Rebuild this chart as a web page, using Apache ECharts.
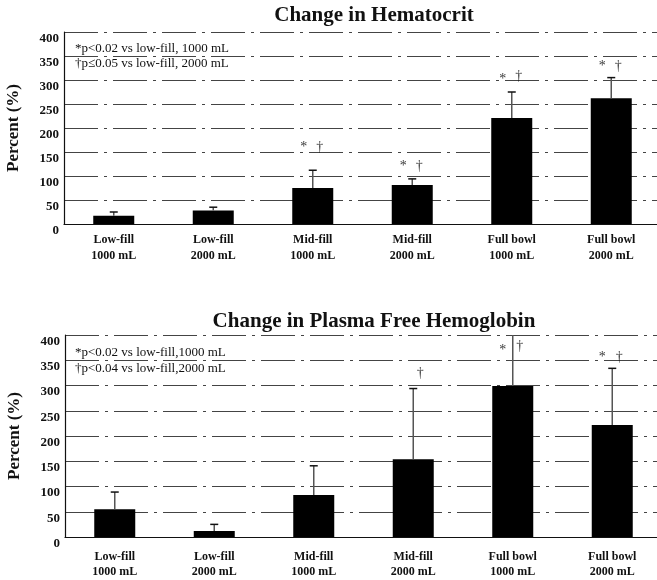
<!DOCTYPE html>
<html>
<head>
<meta charset="utf-8">
<script src="https://cdn.jsdelivr.net/npm/echarts@6/dist/echarts.min.js"></script>
<style>
html,body{margin:0;padding:0;background:#fff;}
#c{width:657px;height:580px;}
</style>
</head>
<body>
<div id="c"></div>
<script>
const categories = ['Low-fill\n1000 mL', 'Low-fill\n2000 mL', 'Mid-fill\n1000 mL', 'Mid-fill\n2000 mL', 'Full bowl\n1000 mL', 'Full bowl\n2000 mL'];
const yTicks = [0, 50, 100, 150, 200, 250, 300, 350, 400];

// Change in Hematocrit
const hctMean = [17, 28, 75, 81, 221, 262];
const hctErrTop = [25, 35, 112, 94, 275, 305];
const hctStar = [null, null, 160, 121, 302, 329];
const hctDagger = [null, null, 160, 121, 308, 329];

// Change in Plasma Free Hemoglobin
const pfhMean = [55, 12, 83, 154, 299, 222];
const pfhErrTop = [89, 25, 141, 294, 410, 334];
const pfhStar = [null, null, null, null, 370, 356];
const pfhDagger = [null, null, null, 325, 378, 356];

const serif = '"Liberation Serif", "Times New Roman", serif';

function yAxis(gi) {
  return {
    type: 'value', gridIndex: gi, min: yTicks[0], max: yTicks[yTicks.length - 1], interval: 50,
    name: 'Percent (%)', nameLocation: 'middle', nameGap: 42, nameRotate: 90,
    nameTextStyle: { fontFamily: serif, fontWeight: 'bold', fontSize: 17, color: '#111' },
    axisLine: { show: true, lineStyle: { color: '#111', width: 1.2 } },
    axisTick: { show: false },
    axisLabel: { fontFamily: serif, fontWeight: 'bold', fontSize: 13, color: '#111', margin: 5, verticalAlign: 'top' },
    splitLine: { show: true, lineStyle: { color: '#444', width: 1, type: [34, 6, 3, 6] } }
  };
}
function xAxis(gi, margin, lh) {
  return {
    type: 'category', gridIndex: gi, data: categories,
    axisLine: { show: true, lineStyle: { color: '#111', width: 1.2 } },
    axisTick: { show: false },
    axisLabel: { fontFamily: serif, fontWeight: 'bold', fontSize: 12, color: '#111', margin: margin, lineHeight: lh, interval: 0 }
  };
}
function errSeries(gi, mean, top) {
  return {
    type: 'custom', xAxisIndex: gi, yAxisIndex: gi, clip: true, z: 3,
    data: mean.map((m, i) => [i, m, top[i]]),
    renderItem: function (params, api) {
      const lo = api.coord([api.value(0), api.value(1)]);
      const hi = api.coord([api.value(0), api.value(2)]);
      return {
        type: 'group',
        children: [
          { type: 'line', shape: { x1: lo[0], y1: lo[1], x2: hi[0], y2: hi[1] }, style: { stroke: '#555', lineWidth: 1.5 } },
          { type: 'line', shape: { x1: hi[0] - 4, y1: hi[1], x2: hi[0] + 4, y2: hi[1] }, style: { stroke: '#111', lineWidth: 1.5 } }
        ]
      };
    }
  };
}
function markSeries(gi, vals, txt, dx) {
  return {
    type: 'scatter', xAxisIndex: gi, yAxisIndex: gi, symbolSize: 1, itemStyle: { color: 'rgba(0,0,0,0)' }, z: 4,
    data: vals.map(v => v == null ? '-' : v),
    label: { show: true, position: 'inside', offset: [dx, 0], formatter: txt, fontFamily: serif, fontSize: 14, color: '#000' },
    emphasis: { disabled: true }, silent: true
  };
}
function barSeries(gi, vals) {
  return { type: 'bar', xAxisIndex: gi, yAxisIndex: gi, data: vals, barWidth: 41, itemStyle: { color: '#000' }, z: 2, silent: true };
}
function txt(x, y, s, font, align) {
  return { type: 'text', x: x, y: y, style: { text: s, font: font, fill: '#111', align: align || 'left', verticalAlign: 'middle' } };
}

const chart = echarts.init(document.getElementById('c'), null, { renderer: 'canvas' });
chart.setOption({
  animation: false,
  backgroundColor: '#fff',
  grid: [
    { left: 64, top: 32, width: 597, height: 192, containLabel: false, outerBoundsMode: 'none' },
    { left: 65, top: 335, width: 597, height: 202, containLabel: false, outerBoundsMode: 'none' }
  ],
  xAxis: [xAxis(0, 8, 16), xAxis(1, 12, 15)],
  yAxis: [yAxis(0), yAxis(1)],
  series: [
    barSeries(0, hctMean), errSeries(0, hctMean, hctErrTop),
    markSeries(0, hctStar, '*', -9), markSeries(0, hctDagger, '†', 7),
    barSeries(1, pfhMean), errSeries(1, pfhMean, pfhErrTop),
    markSeries(1, pfhStar, '*', -10), markSeries(1, pfhDagger, '†', 7)
  ],
  graphic: [
    txt(374, 16, 'Change in Hematocrit', 'bold 21px ' + serif, 'center'),
    txt(374, 322, 'Change in Plasma Free Hemoglobin', 'bold 21px ' + serif, 'center'),
    txt(75, 49, '*p<0.02 vs low-fill, 1000 mL', '13px ' + serif),
    txt(75, 64, '†p≤0.05 vs low-fill, 2000 mL', '13px ' + serif),
    txt(75, 353, '*p<0.02 vs low-fill,1000 mL', '13px ' + serif),
    txt(75, 369, '†p<0.04 vs low-fill,2000 mL', '13px ' + serif)
  ]
});
</script>
</body>
</html>
